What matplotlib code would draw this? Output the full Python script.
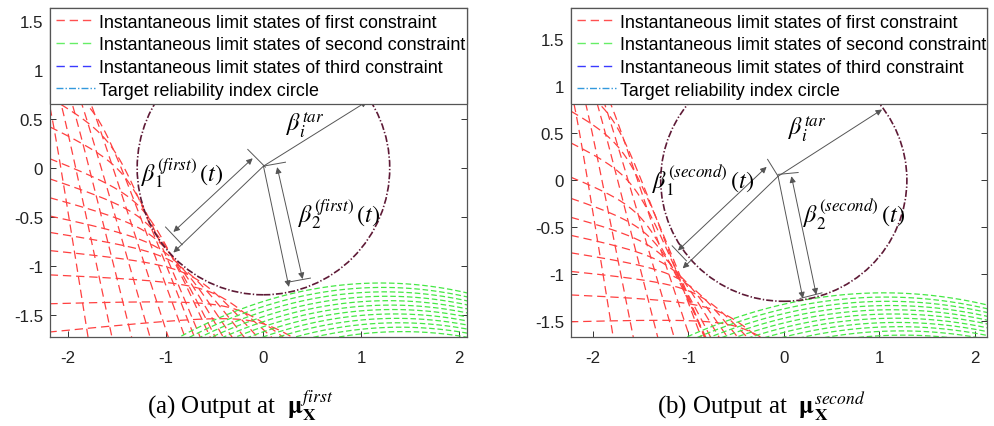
import numpy as np
import matplotlib
matplotlib.use('Agg')
import matplotlib.pyplot as plt
from matplotlib.lines import Line2D
from matplotlib.patches import Circle

plt.rcParams['font.family'] = ['Liberation Sans', 'DejaVu Sans']
plt.rcParams['mathtext.fontset'] = 'stix'
plt.rcParams['axes.unicode_minus'] = False
plt.rcParams['lines.scale_dashes'] = False

# ---------------- data ----------------
xticks = [-2, -1, 0, 1, 2]
yticks = [-1.5, -1, -0.5, 0, 0.5, 1, 1.5]
ytick_labels = ['-1.5', '-1', '-0.5', '0', '0.5', '1', '1.5']
legend_labels = ['Instantaneous limit states of first constraint',
                 'Instantaneous limit states of second constraint',
                 'Instantaneous limit states of third constraint',
                 'Target reliability index circle']
beta_tar = 1.29

# panel (a): red instantaneous limit states
# corner point (x, y), flat-arm angle, steep-arm angle (deg), roundness
a_red_vx = [-2.30, -2.22, -2.12, -2.02, -1.92, -1.78, -1.62, -1.48, -1.30, -1.22, -1.13, -1.02, -0.90, -0.74, -0.50, -0.25, -0.02]
a_red_vy = [0.95, 1.05, 1.05, 1.00, 0.95, 0.62, 0.30, -0.02, -0.36, -0.54, -0.70, -0.85, -0.97, -1.10, -1.28, -1.45, -1.58]
a_red_flat = [160, 160, 160, 160, 160, 150, 152, 156, 160, 163, 166, 169, 172, 175, 178, 182, 186]
a_red_steep = [279, 282, 284, 286, 288, 290, 291, 292, 294, 296, 299, 302, 306, 310, 314, 318, 322]
a_red_c = [0.1, 0.1, 0.1, 0.1, 0.1, 0.2, 0.22, 0.22, 0.22, 0.22, 0.22, 0.22, 0.22, 0.22, 0.22, 0.22, 0.22]
# panel (a): green instantaneous limit states (vertex x, vertex y)
a_grn_vx = [1.20, 1.22, 1.24, 1.26, 1.28, 1.30, 1.32, 1.34, 1.36, 1.38, 1.40, 1.42]
a_grn_vy = [-1.17, -1.215, -1.26, -1.305, -1.35, -1.395, -1.44, -1.485, -1.53, -1.575, -1.62, -1.665]
a_grn_k = 0.13

# panel (b)
b_red_vx = [-2.32, -2.22, -2.12, -2.04, -1.95, -1.87, -1.76, -1.66, -1.56, -1.46, -1.34, -1.21, -1.07, -0.91, -0.66, -0.43]
b_red_vy = [1.15, 1.20, 1.20, 1.15, 1.05, 0.74, 0.38, 0.02, -0.34, -0.56, -0.75, -0.92, -1.07, -1.22, -1.41, -1.58]
b_red_flat = [160, 160, 160, 160, 160, 150, 153, 156, 160, 163, 166, 169, 172, 175, 178, 182]
b_red_steep = [279, 281, 284, 286, 288, 290, 291, 292, 294, 296, 299, 302, 306, 310, 314, 318]
b_red_c = [0.1, 0.1, 0.1, 0.1, 0.1, 0.2, 0.22, 0.22, 0.22, 0.22, 0.22, 0.22, 0.22, 0.22, 0.22, 0.22]
b_grn_vx = [1.05, 1.07, 1.09, 1.11, 1.13, 1.15, 1.17, 1.19, 1.21, 1.23, 1.25]
b_grn_vy = [-1.20, -1.245, -1.29, -1.335, -1.38, -1.425, -1.47, -1.515, -1.56, -1.605, -1.65]
b_grn_k = 0.11

panels = [
    dict(rect=[0.0503, 0.2084, 0.4191, 0.7705], xlim=(-2.18, 2.08), ylim=(-1.72, 1.63),
         red=(a_red_vx, a_red_vy, a_red_flat, a_red_steep, a_red_c),
         grn=(a_grn_vx, a_grn_vy, a_grn_k),
         center=(0.0, 0.02), tar_tip=(1.06, 0.68),
         b1_vec=(-0.92, -0.86), b1_dim=((-0.11, 0.10), (-0.92, -0.65)),
         b1_t0=((-0.16, 0.19), (0.02, 0.01)), b1_t1=((-1.0, -0.60), (-0.83, -0.78)),
         b2_vec=(0.26, -1.21), b2_dim=((0.14, 0.01), (0.40, -1.13)),
         b2_t0=((0.0, 0.02), (0.225, 0.06)), b2_t1=((0.26, -1.16), (0.48, -1.12)),
         b1_lab=(-0.83, -0.04), b2_lab=(0.77, -0.46), tar_lab=(0.43, 0.45),
         name='first', cap='(a) Output at  ', capx=0.241),
    dict(rect=[0.5739, 0.2084, 0.4181, 0.7705], xlim=(-2.23, 2.13), ylim=(-1.67, 1.83),
         red=(b_red_vx, b_red_vy, b_red_flat, b_red_steep, b_red_c),
         grn=(b_grn_vx, b_grn_vy, b_grn_k),
         center=(-0.06, 0.04), tar_tip=(1.03, 0.75),
         b1_vec=(-1.06, -0.94), b1_dim=((-0.18, 0.14), (-1.11, -0.75)),
         b1_t0=((-0.17, 0.22), (-0.06, 0.04)), b1_t1=((-1.17, -0.70), (-1.02, -0.86)),
         b2_vec=(0.20, -1.26), b2_dim=((0.08, 0.04), (0.34, -1.22)),
         b2_t0=((-0.06, 0.06), (0.15, 0.08)), b2_t1=((0.17, -1.26), (0.40, -1.20)),
         b1_lab=(-0.85, 0.0), b2_lab=(0.74, -0.36), tar_lab=(0.24, 0.55),
         name='second', cap='(b) Output at  ', capx=0.765),
]

RED = '#ff4040'
GRN = '#44e844'
CIRC = '#5e1a36'
ARR = '#555555'

fig = plt.figure(figsize=(9.95, 4.27), dpi=100)

s = np.linspace(-6, 6, 1500)
for P in panels:
    ax = fig.add_axes(P['rect'])
    ax.set_xlim(*P['xlim'])
    ax.set_ylim(*P['ylim'])
    # red family: hyperbolas through the given corner with the given arm directions
    vx, vy, fl, st, cc = P['red']
    for i in range(len(vx)):
        d1 = np.array([np.cos(np.radians(st[i])), np.sin(np.radians(st[i]))])
        d2 = np.array([np.cos(np.radians(fl[i])), np.sin(np.radians(fl[i]))])
        ox = vx[i] - cc[i] * (d1[0] + d2[0])
        oy = vy[i] - cc[i] * (d1[1] + d2[1])
        x = ox + cc[i] * (np.exp(s) * d1[0] + np.exp(-s) * d2[0])
        y = oy + cc[i] * (np.exp(s) * d1[1] + np.exp(-s) * d2[1])
        ax.plot(x, y, color=RED, lw=0.9, ls=(0, (6, 3.5)))
    # green family
    gx, gy, k = P['grn']
    xg = np.linspace(-2.5, 2.5, 400)
    for i in range(len(gx)):
        ax.plot(xg, gy[i] - k * (xg - gx[i]) ** 2, color=GRN, lw=0.9, ls=(0, (4, 2)))
    # target circle
    ax.add_patch(Circle((0, 0), beta_tar, fill=False, ec=CIRC, lw=1.2,
                        ls=(0, (5, 1.5, 1, 1.5)), zorder=3))
    # annotations
    aprops = dict(arrowstyle='-|>', mutation_scale=9, lw=0.7, color=ARR, shrinkA=0, shrinkB=0)
    dprops = dict(arrowstyle='<|-|>', mutation_scale=9, lw=0.7, color=ARR, shrinkA=0, shrinkB=0)
    c0 = P['center']
    ax.annotate('', xy=P['tar_tip'], xytext=c0, arrowprops=aprops, zorder=4)
    ax.annotate('', xy=P['b1_vec'], xytext=c0, arrowprops=aprops, zorder=4)
    ax.annotate('', xy=P['b2_vec'], xytext=c0, arrowprops=aprops, zorder=4)
    ax.annotate('', xy=P['b1_dim'][1], xytext=P['b1_dim'][0], arrowprops=dprops, zorder=4)
    ax.annotate('', xy=P['b2_dim'][1], xytext=P['b2_dim'][0], arrowprops=dprops, zorder=4)
    for key in ['b1_t0', 'b1_t1', 'b2_t0', 'b2_t1']:
        (x0, y0), (x1, y1) = P[key]
        ax.plot([x0, x1], [y0, y1], color=ARR, lw=0.7, zorder=4)
    nm = P['name']
    ax.text(*P['b1_lab'], r'$\beta_1^{(%s)}\,(t)$' % nm, fontsize=17.5, ha='center', va='center', zorder=5)
    ax.text(*P['b2_lab'], r'$\beta_2^{(%s)}\,(t)$' % nm, fontsize=17.5, ha='center', va='center', zorder=5)
    ax.text(*P['tar_lab'], r'$\beta_i^{tar}$', fontsize=17.5, ha='center', va='center', zorder=5)

    ax.set_xticks(xticks)
    ax.set_yticks(yticks)
    ax.set_yticklabels(ytick_labels)
    ax.tick_params(direction='in', length=4, width=0.7, top=True, right=True,
                   labelsize=12.2, colors='#333333', labelcolor='#222222')
    ax.tick_params(axis='y', pad=5)
    ax.tick_params(axis='x', pad=9)
    for sp in ax.spines.values():
        sp.set_color('#555555'); sp.set_linewidth(0.9)

    handles = [Line2D([], [], color='#ff5050', lw=1, ls=(0, (6, 3.5))),
               Line2D([], [], color='#66ee66', lw=1, ls=(0, (6, 3.5))),
               Line2D([], [], color='#3a3aff', lw=1, ls=(0, (6, 3.5))),
               Line2D([], [], color='#3399dd', lw=1, ls=(0, (5, 1.5, 1, 1.5)))]
    leg = ax.legend(handles, legend_labels, loc='upper left', bbox_to_anchor=(0, 0, 1, 1),
                    mode='expand', borderaxespad=0, fancybox=False, framealpha=1,
                    edgecolor='#555555', fontsize=12.85, handlelength=2.2,
                    handletextpad=0.22, labelspacing=0.32, borderpad=0.31)
    leg.get_frame().set_linewidth(0.9)
    leg.set_zorder(10)

    fig.text(P['capx'], 0.03, P['cap'] + r'$\mathbf{\mu}_{\mathbf{X}}^{%s}$' % nm,
             fontsize=18, ha='center', va='baseline', family=['Liberation Serif', 'DejaVu Serif'])

fig.savefig('out.png', dpi=100)
